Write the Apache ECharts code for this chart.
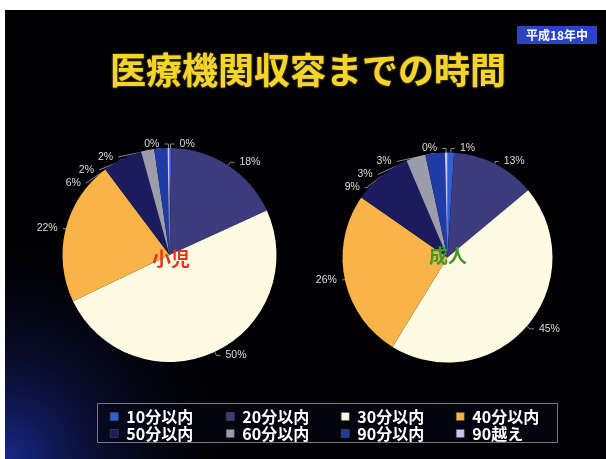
<!DOCTYPE html>
<html><head><meta charset="utf-8">
<script src="https://cdn.jsdelivr.net/npm/echarts@6/dist/echarts.min.js"></script>
<style>html,body{margin:0;padding:0;background:#fff;}#c{width:606px;height:459px;}</style>
</head><body><div id="c"></div>
<script>
const categories = ['10分以内','20分以内','30分以内','40分以内','50分以内','60分以内','90分以内','90越え'];
const childValues = [0.3, 18, 50, 22, 6, 2, 2, 0.3];
const adultValues = [1, 13, 45, 26, 9, 3, 3, 0.4];
const colors = ['#2f5fd0','#3b3b7e','#fffbe2','#f8b448','#1b1b5e','#9c9cab','#1f3ca6','#cbc3f8'];
const titleText = '医療機関収容までの時間';
const yearText = '平成18年中';
const childName = '小児';
const adultName = '成人';

const chart = echarts.init(document.getElementById('c'));
const FONT = '"Noto Sans CJK JP", sans-serif';

function pieSeries(name, values, center, radius) {
  return {
    type: 'pie', name: name, center: center, radius: radius,
    startAngle: 90, clockwise: true, percentPrecision: 1,
    data: categories.map((c, i) => ({name: c, value: values[i], itemStyle: {color: colors[i]}})),
    label: {
      show: true, position: 'outside', color: '#dcdcdc', fontSize: 10.5, fontFamily: 'Arial, sans-serif',
      formatter: p => Math.round(p.percent) + '%'
    },
    labelLine: {show: true, length: 4, length2: 4, lineStyle: {color: '#8a8a8a', width: 1}},
    itemStyle: {borderWidth: 0},
    emphasis: {disabled: true},
    animation: false
  };
}

const colX = [110, 226, 341, 456];
function legendCol(i) {
  return {
    data: [categories[i], categories[i + 4]], left: colX[i], top: 408, orient: 'vertical',
    itemWidth: 8, itemHeight: 8, itemGap: 0, padding: 0,
    icon: 'rect', selectedMode: false,
    textStyle: {color: '#ffffff', fontSize: 16, fontWeight: 'bold', fontFamily: FONT, lineHeight: 17, padding: [0, 0, 0, 3]},
    itemStyle: {borderColor: '#555', borderWidth: 0.5}
  };
}

const option = {
  backgroundColor: '#ffffff',
  animation: false,
  color: colors,
  graphic: [
    {type: 'rect', shape: {x: 5, y: 10, width: 601, height: 449}, style: {fill: '#020205'}, z: -10},
    {type: 'rect', shape: {x: 5, y: 10, width: 601, height: 449},
      style: {fill: new echarts.graphic.RadialGradient(0, 1, 0.5, [
        {offset: 0, color: 'rgba(30,50,170,0.8)'},
        {offset: 0.5, color: 'rgba(20,30,110,0.3)'},
        {offset: 1, color: 'rgba(0,0,20,0)'}])}, z: -9},
    {type: 'rect', shape: {x: 97.5, y: 403.5, width: 460, height: 39}, style: {fill: 'rgba(5,5,25,0.5)', stroke: '#7a7a80', lineWidth: 1}, z: -5},
    {type: 'rect', shape: {x: 517, y: 26, width: 80, height: 18}, style: {fill: '#2b44c4'}, z: 5},
    {type: 'text', x: 557, y: 35, z: 6, style: {text: yearText, fill: '#ffffff', font: 'bold 12px ' + FONT, align: 'center', verticalAlign: 'middle'}},
    {type: 'text', x: 308, y: 70, z: 6, style: {text: titleText, fill: '#f8d428', font: 'bold 36px ' + FONT, align: 'center', verticalAlign: 'middle', textShadowColor: 'rgba(255,240,150,0.6)', textShadowBlur: 2}},
    {type: 'text', x: 171, y: 259, z: 20, style: {text: childName, fill: '#e8341e', font: 'bold 19px ' + FONT, align: 'center', verticalAlign: 'middle'}},
    {type: 'text', x: 448, y: 256, z: 20, style: {text: adultName, fill: '#3f9a2c', font: 'bold 19px ' + FONT, align: 'center', verticalAlign: 'middle'}}
  ],
  legend: [legendCol(0), legendCol(1), legendCol(2), legendCol(3)],
  series: [
    pieSeries(childName, childValues, [169.5, 255], 107),
    pieSeries(adultName, adultValues, [447.5, 257.5], 105)
  ]
};
chart.setOption(option);
</script></body></html>
